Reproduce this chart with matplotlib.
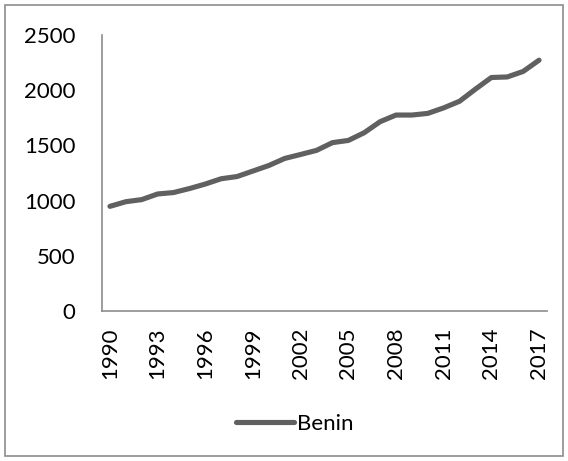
import numpy as np
import matplotlib.pyplot as plt
from matplotlib.patches import Rectangle

plt.rcParams['font.family'] = ['Lato', 'DejaVu Sans']

# data
years = list(range(1990, 2018))
benin = [948, 990, 1009, 1060, 1073, 1109, 1150, 1198, 1218, 1268,
         1318, 1382, 1418, 1455, 1525, 1545, 1615, 1715, 1775, 1775,
         1790, 1840, 1900, 2010, 2115, 2120, 2170, 2272]
tick_years = years[::3]

W, H = 568, 461
fig = plt.figure(figsize=(W / 100, H / 100), dpi=100)
# plot area in pixels: left 102, right 547, top 35, bottom 311
ax = fig.add_axes([102 / W, 1 - 311 / H, (547 - 102) / W, (311 - 35) / H])

x = np.arange(len(years))
ax.plot(x, benin, color='#606060', lw=3.7, solid_capstyle='round',
        solid_joinstyle='round', label='Benin')

ax.set_xlim(-0.5, len(years) - 0.5)
ax.set_ylim(0, 2500)
ax.set_yticks(range(0, 2501, 500))
ax.set_xticks([years.index(y) for y in tick_years])
ax.set_xticklabels([str(y) for y in tick_years], rotation=90)
ax.tick_params(axis='both', length=0, labelsize=16, colors='black')
ax.tick_params(axis='y', pad=19)
ax.tick_params(axis='x', pad=12)

for side in ['top', 'right']:
    ax.spines[side].set_visible(False)
for side in ['left', 'bottom']:
    ax.spines[side].set_color('#8c8c8c')
    ax.spines[side].set_linewidth(1.2)

leg = fig.legend(loc='center', bbox_to_anchor=(295 / W, 1 - 424 / H),
                 frameon=False, fontsize=16, handlelength=2.6,
                 handletextpad=0.15)

# outer chart border
fig.patches.append(Rectangle((5 / W, 5 / H), 558 / W, 451 / H,
                             transform=fig.transFigure, fill=False,
                             edgecolor='#8c8c8c', lw=1.2))

fig.savefig('out.png', dpi=100)
